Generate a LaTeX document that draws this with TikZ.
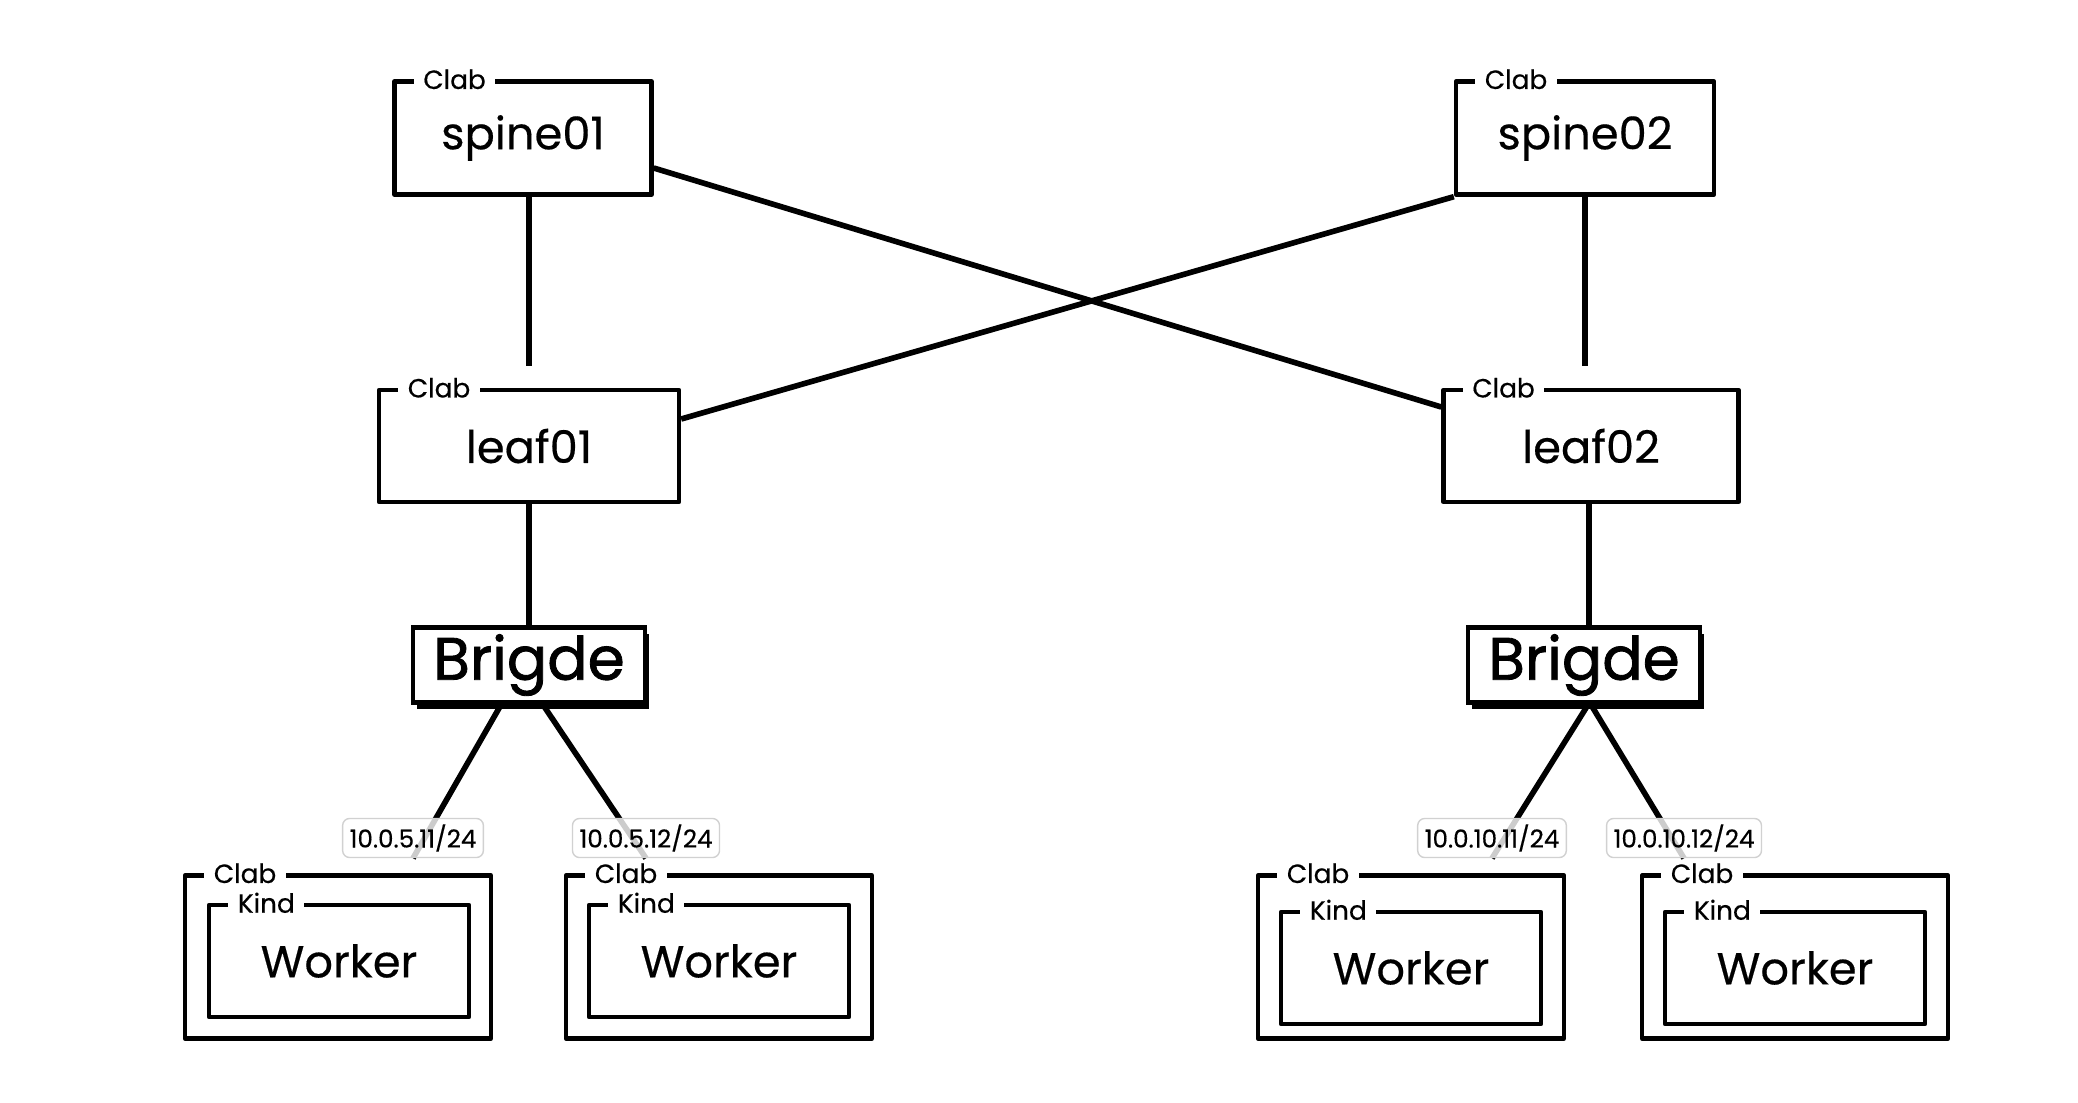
\documentclass[tikz,border=0pt]{standalone}
\usepackage{fontspec}
\setmainfont{Poppins}[FakeBold=0.4]
\newfontfamily\bridgefont{Poppins}[FakeBold=1.4]
\usetikzlibrary{shadows,backgrounds}

\begin{document}
\begin{tikzpicture}[x=0.02cm, y=-0.02cm,
    box/.style={draw, line width=2.5pt, line join=round, fill=white, font=\fontsize{25.5}{28}\selectfont},
    tag/.style={anchor=west, xshift=0.42cm, fill=white, inner xsep=5.5pt, inner ysep=2pt, font=\fontsize{15}{17}\selectfont},
    bridge/.style={draw, line width=2.6pt, fill=white, minimum width=4.64cm, minimum height=1.5cm,
        font=\bridgefont\fontsize{34}{38}\selectfont,
        drop shadow={shadow xshift=0.08cm, shadow yshift=-0.12cm, fill=black, opacity=1}},
    ip/.style={draw=black!18, line width=0.8pt, rounded corners=4pt, fill=white, fill opacity=0.8,
        text opacity=1, inner xsep=0.14cm, minimum height=0.78cm, font=\fontsize{14}{16}\selectfont},
    outer/.style={draw, line width=2.5pt, line join=round, minimum width=6.12cm, minimum height=3.26cm},
    inner/.style={box, minimum width=5.2cm, minimum height=2.24cm},
    link/.style={line width=3.2pt}
]
    \useasboundingbox (0,0) rectangle (2078,1102);

    % spines and leaves
    \node[box, minimum width=5.14cm, minimum height=2.26cm, label={[tag]north west:Clab}] (spine01) at (523,138) {spine01};
    \node[box, minimum width=5.16cm, minimum height=2.26cm, label={[tag]north west:Clab}] (spine02) at (1585,138) {spine02};
    \node[box, minimum width=6.0cm, minimum height=2.24cm, label={[tag]north west:Clab}] (leaf01) at (529,446) {leaf01};
    \node[box, minimum width=5.9cm, minimum height=2.24cm, label={[tag]north west:Clab}] (leaf02) at (1591,446) {leaf02};

    % bridges
    \node[bridge] (br1) at (529,665) {Brigde};
    \node[bridge] (br2) at (1584,665) {Brigde};

    % addresses
    \node[ip] (ip1) at (413,838) {10.0.5.11/24};
    \node[ip] (ip2) at (646,838) {10.0.5.12/24};
    \node[ip] (ip3) at (1492,838) {10.0.10.11/24};
    \node[ip] (ip4) at (1684,838) {10.0.10.12/24};

    % workers
    \node[outer, label={[tag]north west:Clab}] (c1) at (338,957) {};
    \node[outer, label={[tag]north west:Clab}] (c2) at (719,957) {};
    \node[outer, label={[tag]north west:Clab}] (c3) at (1411,957) {};
    \node[outer, label={[tag]north west:Clab}] (c4) at (1795,957) {};
    \node[inner, label={[tag]north west:Kind}] (w1) at (339,961) {Worker};
    \node[inner, label={[tag]north west:Kind}] (w2) at (719,961) {Worker};
    \node[inner, label={[tag]north west:Kind}] (w3) at (1411,968) {Worker};
    \node[inner, label={[tag]north west:Kind}] (w4) at (1795,968) {Worker};

    \begin{scope}[on background layer]
        \draw[link, shorten >=0.44cm] (leaf01.north |- spine01.south) -- (leaf01.north);
        \draw[link, shorten >=0.44cm] (spine02.south) -- (spine02.south |- leaf02.north);
        \draw[link] ([yshift=-0.6cm]spine01.east) -- ([yshift=0.78cm]leaf02.west);
        \draw[link] (spine02.south west) -- ([yshift=0.54cm]leaf01.east);
        \draw[link] (leaf01) -- (br1);
        \draw[link] ([xshift=-0.04cm]leaf02.south) -- ([xshift=-0.04cm]leaf02.south |- br2.north);
        \draw[link] ([xshift=-0.56cm]br1.south) -- (ip1.south);
        \draw[link] ([xshift=0.28cm]br1.south) -- (ip2.south);
        \draw[link] ([xshift=0.08cm]br2.south) -- (ip3.south);
        \draw[link] ([xshift=0.14cm]br2.south) -- (ip4.south);
    \end{scope}
\end{tikzpicture}
\end{document}
